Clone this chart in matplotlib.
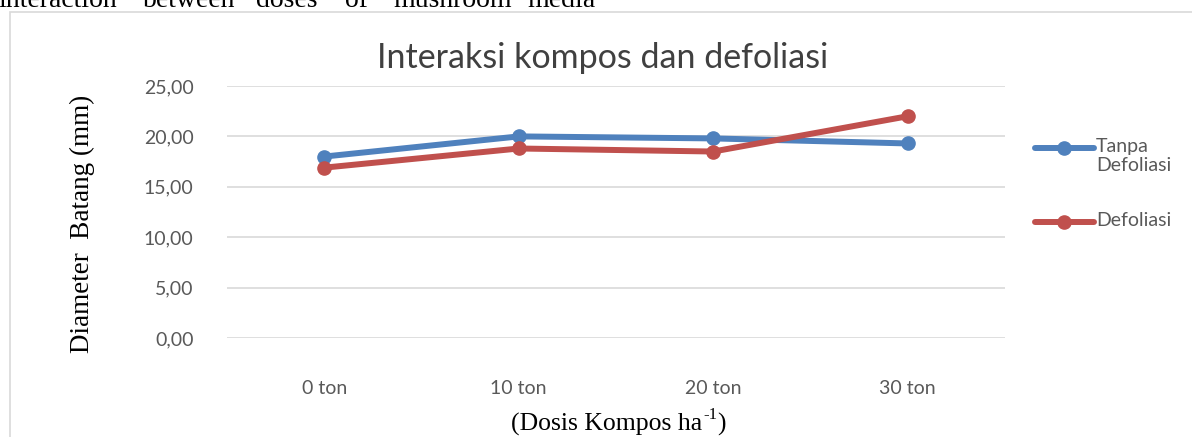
import matplotlib
matplotlib.use('Agg')
import matplotlib.pyplot as plt
from matplotlib.lines import Line2D
from matplotlib.patches import Rectangle

categories = ['0 ton', '10 ton', '20 ton', '30 ton']
tanpa_defoliasi = [18.0, 20.0, 19.8, 19.3]
defoliasi = [16.9, 18.8, 18.5, 22.0]
series_labels = ['Tanpa\nDefoliasi', 'Defoliasi']
yticks = [0, 5, 10, 15, 20, 25]
ytick_labels = ['0,00', '5,00', '10,00', '15,00', '20,00', '25,00']

blue = '#4f81bd'
red = '#c0504d'
grid_col = '#d9d9d9'
text_col = '#595959'

fig = plt.figure(figsize=(11.92, 4.37), dpi=100)
fig.patch.set_facecolor('white')

# chart frame (runs off the right/bottom of the crop)
fig.patches.append(Rectangle((10 / 1192, -0.1), 1.2, 1 - 12 / 437 + 0.1, transform=fig.transFigure,
                             fill=False, edgecolor=grid_col, lw=1.2))

# cut-off caption text at the very top
words = ['interaction', 'between', 'doses', 'of', 'mushroom', 'media']
word_x = [-2, 143, 256, 345, 393, 527]
for w, x in zip(words, word_x):
    fig.text(x / 1192, 1 - 7 / 437, w, family='Liberation Serif', fontsize=20, color='black',
             ha='left', va='baseline')

ax = fig.add_axes([227 / 1192, 1 - 338 / 437, (1005 - 227) / 1192, (338 - 86) / 437])
x = range(len(categories))
ax.plot(x, tanpa_defoliasi, color=blue, lw=4.3, marker='o', ms=9.5, solid_capstyle='round', zorder=3)
ax.plot(x, defoliasi, color=red, lw=4.3, marker='o', ms=9.5, solid_capstyle='round', zorder=3)

ax.set_xlim(-0.5, len(categories) - 0.5)
ax.set_ylim(0, 25)
ax.set_yticks(yticks)
ax.set_yticklabels(ytick_labels)
ax.set_xticks(list(x))
ax.set_xticklabels(categories)
ax.tick_params(axis='y', length=0, pad=24, labelsize=14, labelcolor=text_col)
ax.tick_params(axis='x', length=0, pad=30, labelsize=14, labelcolor=text_col)
for lab in ax.get_xticklabels() + ax.get_yticklabels():
    lab.set_family('Lato')
ax.grid(axis='y', color=grid_col, lw=1.2)
ax.set_axisbelow(True)
for s in ax.spines.values():
    s.set_visible(False)

fig.text(603 / 1192, 1 - 58 / 437, 'Interaksi kompos dan defoliasi', family='Lato', fontsize=24.5,
         color='#404040', ha='center', va='center')
fig.text(82 / 1192, 1 - 224 / 437, 'Diameter  Batang (mm)', family='Liberation Serif', fontsize=19.5,
         rotation=90, ha='center', va='center')

# x axis title, superscript with a plain hyphen
xt = fig.text(511 / 1192, 1 - 424 / 437, '(Dosis Kompos ha', family='Liberation Serif',
              fontsize=18.5, ha='left', va='center')
sup = ax.annotate('-1', xy=(1, 0.55), xycoords=xt, xytext=(0.5, 0), textcoords='offset points',
                  family='Liberation Serif', fontsize=12, ha='left', va='bottom', annotation_clip=False)
ax.annotate(')', xy=(1, 0), xycoords=(sup, xt), xytext=(0.5, 0), textcoords='offset points',
            family='Liberation Serif', fontsize=18.5, ha='left', va='bottom', annotation_clip=False)

# legend drawn by hand so the handle lines up with the first label line
leg_y = [1 - 148 / 437, 1 - 222 / 437]
for lab, col, y in zip(series_labels, [blue, red], leg_y):
    fig.add_artist(Line2D([1035 / 1192, 1094 / 1192], [y, y], transform=fig.transFigure,
                          color=col, lw=4.3, solid_capstyle='round'))
    fig.add_artist(Line2D([1064 / 1192], [y], transform=fig.transFigure, color=col,
                          marker='o', ms=9.5))
    fig.text(1096 / 1192, y + 10 / 437, lab, family='Lato', fontsize=14, color=text_col,
             ha='left', va='top', linespacing=1.15)

fig.savefig('out.png', dpi=100)
